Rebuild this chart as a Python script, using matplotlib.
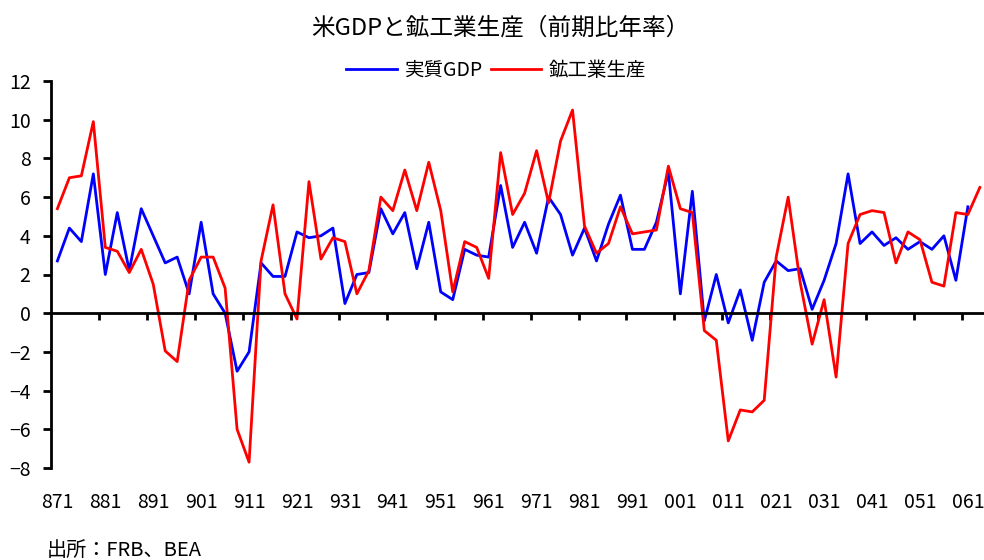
import matplotlib
matplotlib.use("Agg")
import matplotlib.pyplot as plt
import numpy as np

plt.rcParams['font.family'] = ['Noto Sans CJK JP', 'DejaVu Sans']

# 四半期ラベル (1987Q1 - 2006Q2)
years = ['87', '88', '89', '90', '91', '92', '93', '94', '95', '96',
         '97', '98', '99', '00', '01', '02', '03', '04', '05', '06']
quarters = [y + q for y in years for q in '1234'][:78]

gdp = [2.7, 4.4, 3.7, 7.2, 2.0, 5.2, 2.2, 5.4, 4.0, 2.6, 2.9, 1.0, 4.7, 1.0, 0.0, -3.0,
       -2.0, 2.6, 1.9, 1.9, 4.2, 3.9, 4.0, 4.4, 0.5, 2.0, 2.1, 5.4, 4.1, 5.2, 2.3, 4.7,
       1.1, 0.7, 3.3, 3.0, 2.9, 6.6, 3.4, 4.7, 3.1, 6.0, 5.1, 3.0, 4.4, 2.7, 4.6, 6.1,
       3.3, 3.3, 4.7, 7.3, 1.0, 6.3, -0.4, 2.0, -0.5, 1.2, -1.4, 1.6, 2.7, 2.2, 2.3, 0.2,
       1.7, 3.6, 7.2, 3.6, 4.2, 3.5, 3.9, 3.3, 3.7, 3.3, 4.0, 1.7, 5.5]
ip = [5.4, 7.0, 7.1, 9.9, 3.4, 3.2, 2.1, 3.3, 1.5, -1.95, -2.5, 1.7, 2.9, 2.9, 1.3, -6.0,
      -7.7, 2.7, 5.6, 1.0, -0.3, 6.8, 2.8, 3.9, 3.7, 1.0, 2.2, 6.0, 5.3, 7.4, 5.3, 7.8,
      5.3, 1.1, 3.7, 3.4, 1.8, 8.3, 5.1, 6.2, 8.4, 5.7, 8.9, 10.5, 4.5, 3.1, 3.6, 5.5,
      4.1, 4.2, 4.3, 7.6, 5.4, 5.2, -0.9, -1.4, -6.6, -5.0, -5.1, -4.5, 2.9, 6.0, 1.6, -1.6,
      0.7, -3.3, 3.6, 5.1, 5.3, 5.2, 2.6, 4.2, 3.8, 1.6, 1.4, 5.2, 5.1, 6.5]

W, H = 984, 560
fig = plt.figure(figsize=(W / 100, H / 100), dpi=100)
ax_top, ax_bot = 81, 468
ax = fig.add_axes([51.4 / W, (H - ax_bot) / H, (W - 51.4) / W, (ax_bot - ax_top) / H])

x_gdp = np.arange(len(gdp))
x_ip = np.arange(len(ip))
ax.plot(x_gdp, gdp, color='#0000FF', linewidth=2.0, label='実質GDP')
ax.plot(x_ip, ip, color='#FF0000', linewidth=2.0, label='鉱工業生産')

ax.set_xlim(-0.5, -0.5 + (W - 51.4) / 11.98)
ax.set_ylim(-8, 12)
ax.set_yticks(np.arange(-8, 13, 2))
ax.set_yticklabels([str(v).replace('-', '\u2212') for v in range(-8, 13, 2)])
ax.tick_params(axis='y', direction='out', length=6, width=2, pad=9, labelsize=14)

# ゼロ線上に区切りの目盛り
ax.spines['top'].set_visible(False)
ax.spines['right'].set_visible(False)
ax.spines['left'].set_linewidth(2)
ax.spines['bottom'].set_position(('data', 0))
ax.spines['bottom'].set_linewidth(2)
ax.set_xticks(np.arange(3.5, len(quarters), 4))
ax.set_xticklabels([])
ax.tick_params(axis='x', direction='out', length=5, width=2)

# カテゴリーラベルは下端
sec = ax.secondary_xaxis('bottom')
sec.spines['bottom'].set_visible(False)
lab_pos = np.arange(0, len(quarters), 4)
sec.set_xticks(lab_pos)
sec.set_xticklabels([quarters[i] for i in lab_pos])
sec.tick_params(length=0, pad=17, labelsize=14)

fig.text(0.508, 1 - 35 / H, '米GDPと鉱工業生産（前期比年率）', ha='center', va='baseline', fontsize=17)
leg_y = 1 + (ax_top - 70) / (ax_bot - ax_top)
ax.legend(loc='center', bbox_to_anchor=(0.477, leg_y), ncol=2,
          frameon=False, fontsize=14, handlelength=2.6, handletextpad=0.4, columnspacing=0.4)
fig.text(47 / W, 1 - 550 / H, '出所：FRB、BEA', ha='left', va='center', fontsize=14.5)

fig.savefig('out.png', dpi=100)
